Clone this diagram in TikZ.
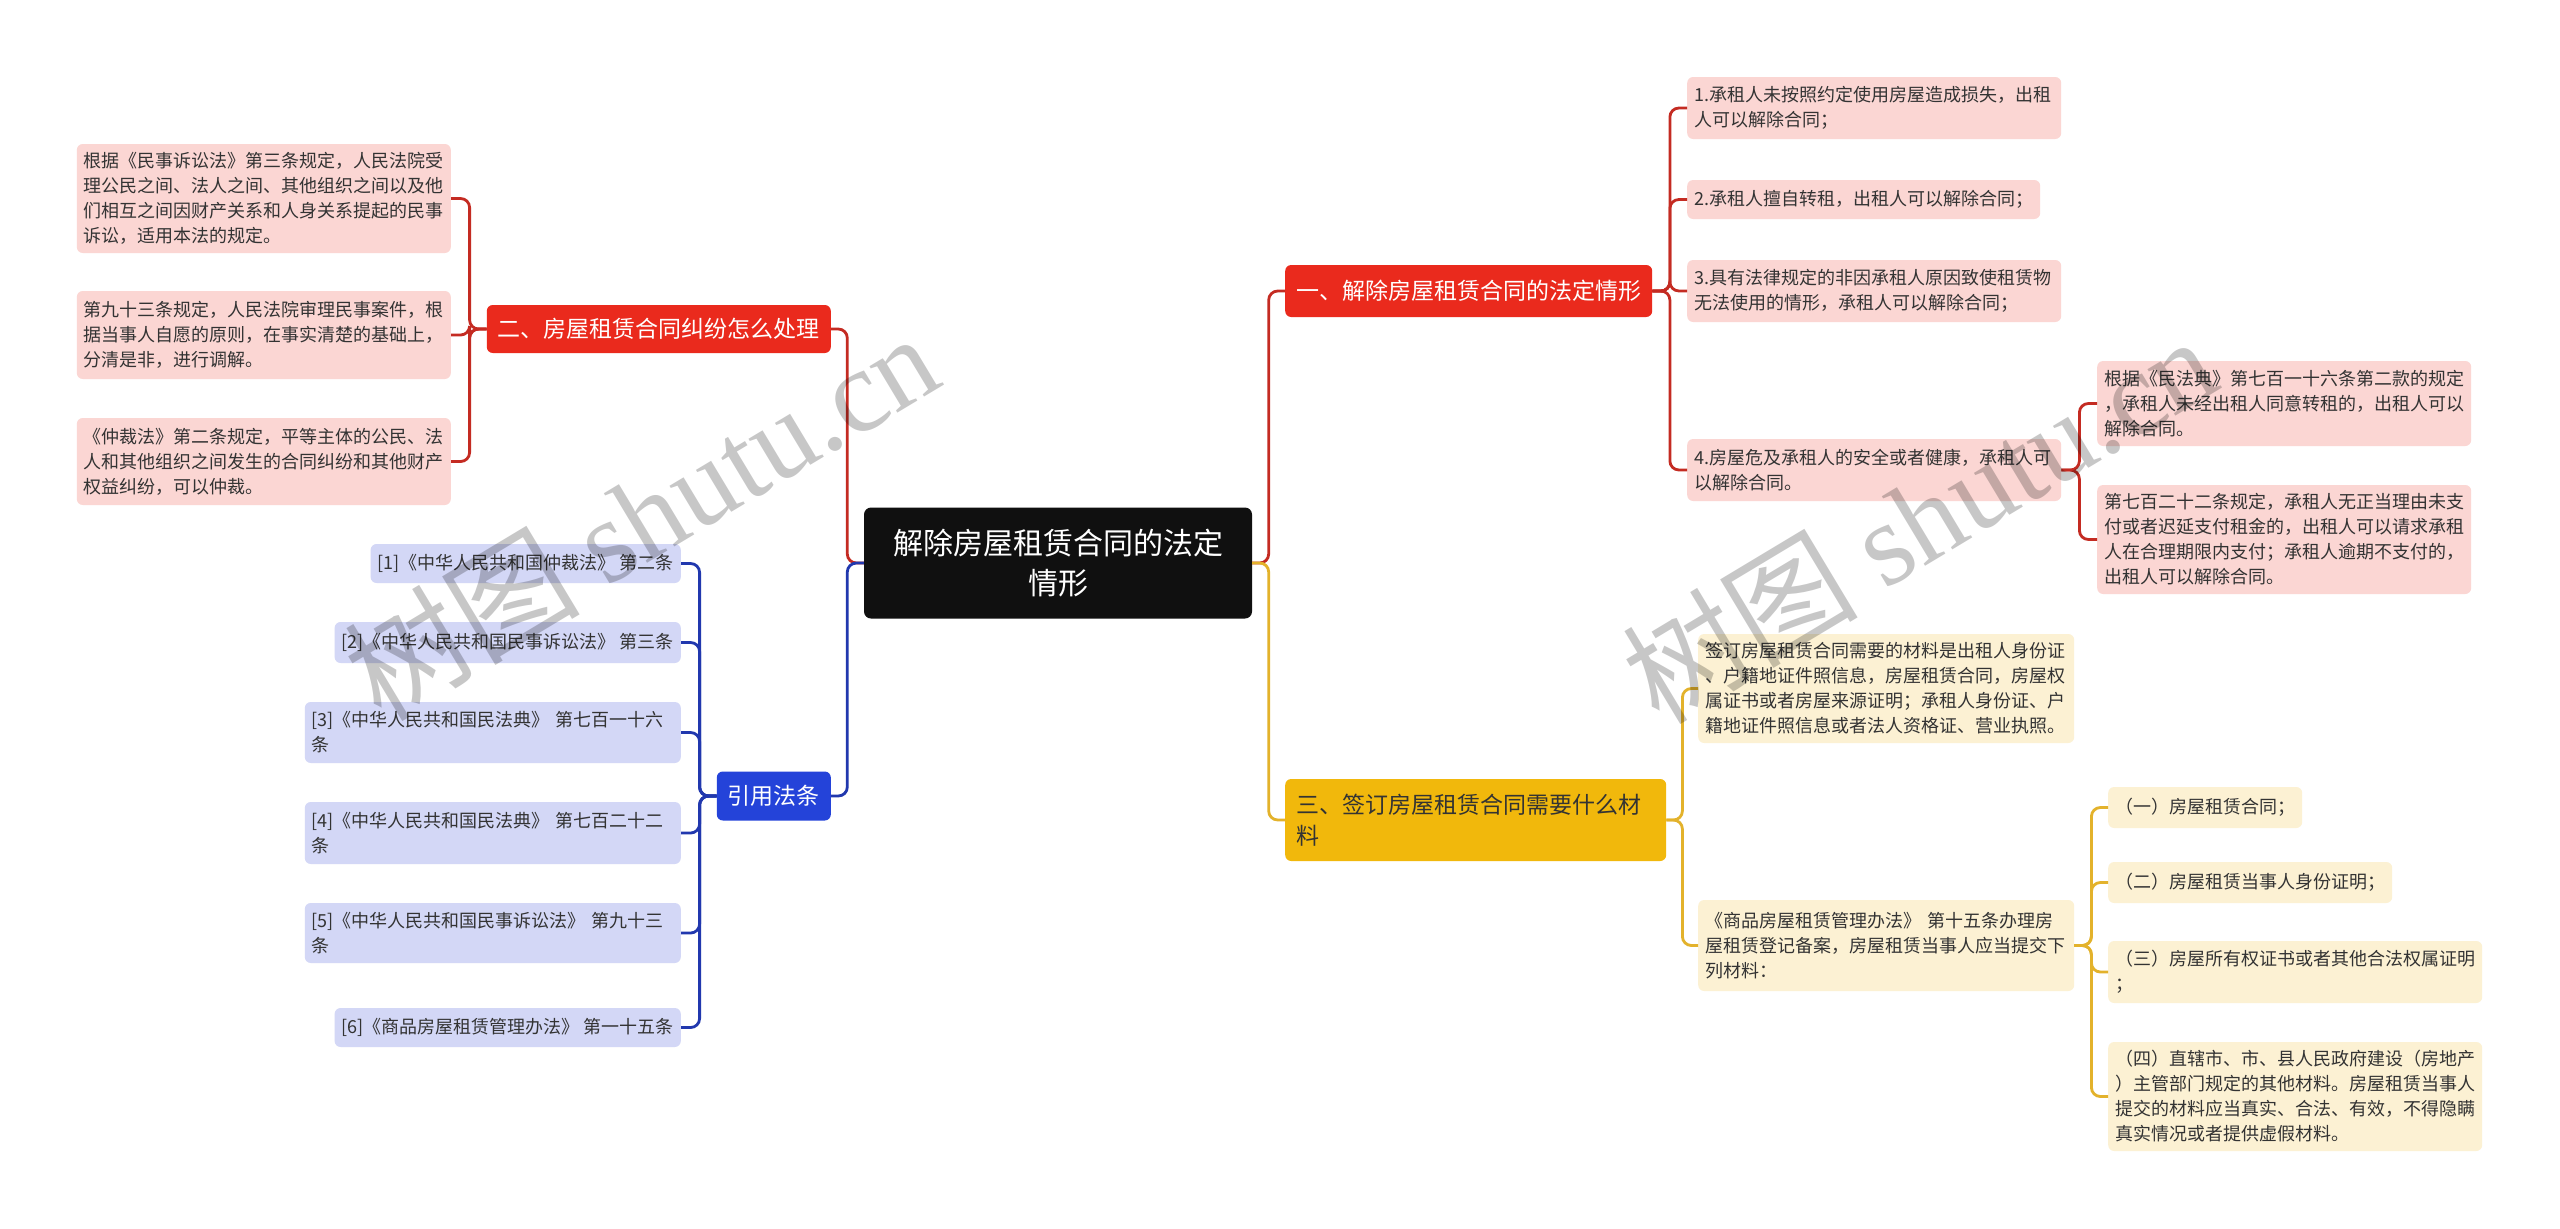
\documentclass[tikz,border=0pt]{standalone}
\usepackage{fontspec}
\setmainfont{Noto Sans CJK SC}
\newfontfamily\wmfont{Liberation Serif}
\usepackage{xcolor}
\usetikzlibrary{positioning, calc}

\definecolor{rootbg}{HTML}{101010}
\definecolor{redbg}{HTML}{EA2A1D}
\definecolor{redln}{HTML}{C42B22}
\definecolor{pinkbg}{HTML}{FBD6D3}
\definecolor{yellowbg}{HTML}{F1B80C}
\definecolor{yellowln}{HTML}{E3B22B}
\definecolor{creambg}{HTML}{FCF1D3}
\definecolor{bluebg}{HTML}{2443D9}
\definecolor{blueln}{HTML}{2138AE}
\definecolor{lavbg}{HTML}{D3D7F6}
\definecolor{txtdark}{HTML}{333333}

\begin{document}
\begin{tikzpicture}[x=1pt, y=-1pt,
  rootbox/.style={fill=rootbg, text=white, rounded corners=7pt, align=center,
    font=\fontsize{30}{40}\selectfont, minimum width=388pt, minimum height=111pt},
  head/.style={rounded corners=6pt, inner xsep=11pt, inner ysep=4pt, align=left,
    font=\fontsize{23}{31}\selectfont},
  redhead/.style={head, fill=redbg, text=white},
  yellowhead/.style={head, fill=yellowbg, text=txtdark},
  bluehead/.style={head, fill=bluebg, text=white},
  leaf/.style={rounded corners=6pt, inner xsep=7pt, inner ysep=4pt, align=left,
    text=txtdark, font=\fontsize{18}{25}\selectfont},
  pinkleaf/.style={leaf, fill=pinkbg},
  creamleaf/.style={leaf, fill=creambg},
  lavleaf/.style={leaf, fill=lavbg},
  wide/.style={text width=360pt},
  conn/.style={line width=2.8pt, rounded corners=9pt},
  redline/.style={conn, draw=redln},
  yellowline/.style={conn, draw=yellowln},
  blueline/.style={conn, draw=blueln},
  wm/.style={text=black, text opacity=0.22, font=\fontsize{118}{118}\selectfont}
]
\useasboundingbox (0,0) rectangle (2560,1229);
\fill[white] (0,0) rectangle (2560,1229);

% centre
\node[rootbox] (root) at (1058,563) {解除房屋租赁合同的法定\\情形};

% main branches
\node[redhead, anchor=west, minimum height=52pt] (sec1) at (1285,291) {一、解除房屋租赁合同的法定情形};
\node[yellowhead, anchor=west, text width=359pt, minimum height=82pt] (sec3) at (1285,820) {三、签订房屋租赁合同需要什么材\\料};
\node[redhead, anchor=east, minimum height=48pt] (sec2) at (831,329) {二、房屋租赁合同纠纷怎么处理};
\node[bluehead, anchor=east, minimum height=49pt] (law) at (831,796) {引用法条};

% branch 1
\node[pinkleaf, wide, anchor=west, minimum height=62pt] (r1) at (1687,108) {1.承租人未按照约定使用房屋造成损失，出租\\人可以解除合同；};
\node[pinkleaf, anchor=west, minimum height=39pt] (r2) at (1687,199.5) {2.承租人擅自转租，出租人可以解除合同；};
\node[pinkleaf, wide, anchor=west, minimum height=62pt] (r3) at (1687,291) {3.具有法律规定的非因承租人原因致使租赁物\\无法使用的情形，承租人可以解除合同；};
\node[pinkleaf, wide, anchor=west, minimum height=62pt] (r4) at (1687,470) {4.房屋危及承租人的安全或者健康，承租人可\\以解除合同。};
\node[pinkleaf, wide, anchor=west, minimum height=85pt] (r4a) at (2097,403.5) {根据《民法典》第七百一十六条第二款的规定\\，承租人未经出租人同意转租的，出租人可以\\解除合同。};
\node[pinkleaf, wide, anchor=west, minimum height=109pt] (r4b) at (2097,539.5) {第七百二十二条规定，承租人无正当理由未支\\付或者迟延支付租金的，出租人可以请求承租\\人在合理期限内支付；承租人逾期不支付的，\\出租人可以解除合同。};

% branch 3
\node[creamleaf, text width=362pt, anchor=west, minimum height=109pt] (y1) at (1698,688.5) {签订房屋租赁合同需要的材料是出租人身份证\\、户籍地证件照信息，房屋租赁合同，房屋权\\属证书或者房屋来源证明；承租人身份证、户\\籍地证件照信息或者法人资格证、营业执照。};
\node[creamleaf, text width=362pt, anchor=west, minimum height=91pt] (y2) at (1698,945.5) {《商品房屋租赁管理办法》 第十五条办理房\\屋租赁登记备案，房屋租赁当事人应当提交下\\列材料：};
\node[creamleaf, anchor=west, minimum height=41pt] (y2a) at (2108,807.5) {（一）房屋租赁合同；};
\node[creamleaf, anchor=west, minimum height=41pt] (y2b) at (2108,882.5) {（二）房屋租赁当事人身份证明；};
\node[creamleaf, wide, anchor=west, minimum height=62pt] (y2c) at (2108,972) {（三）房屋所有权证书或者其他合法权属证明\\；};
\node[creamleaf, wide, anchor=west, minimum height=109pt] (y2d) at (2108,1096.5) {（四）直辖市、市、县人民政府建设（房地产\\）主管部门规定的其他材料。房屋租赁当事人\\提交的材料应当真实、合法、有效，不得隐瞒\\真实情况或者提供虚假材料。};

% branch 2
\node[pinkleaf, wide, anchor=east, minimum height=109pt] (l1) at (451,198.5) {根据《民事诉讼法》第三条规定，人民法院受\\理公民之间、法人之间、其他组织之间以及他\\们相互之间因财产关系和人身关系提起的民事\\诉讼，适用本法的规定。};
\node[pinkleaf, wide, anchor=east, minimum height=88pt] (l2) at (451,335) {第九十三条规定，人民法院审理民事案件，根\\据当事人自愿的原则，在事实清楚的基础上，\\分清是非，进行调解。};
\node[pinkleaf, wide, anchor=east, minimum height=87pt] (l3) at (451,461.5) {《仲裁法》第二条规定，平等主体的公民、法\\人和其他组织之间发生的合同纠纷和其他财产\\权益纠纷，可以仲裁。};

% cited laws
\node[lavleaf, anchor=east, minimum height=39pt] (k1) at (681,563.5) {[1]《中华人民共和国仲裁法》 第二条};
\node[lavleaf, anchor=east, minimum height=41pt] (k2) at (681,642.5) {[2]《中华人民共和国民事诉讼法》 第三条};
\node[lavleaf, text width=362pt, anchor=east, minimum height=61pt] (k3) at (681,732.5) {[3]《中华人民共和国民法典》 第七百一十六\\条};
\node[lavleaf, text width=362pt, anchor=east, minimum height=62pt] (k4) at (681,833) {[4]《中华人民共和国民法典》 第七百二十二\\条};
\node[lavleaf, text width=362pt, anchor=east, minimum height=60pt] (k5) at (681,933) {[5]《中华人民共和国民事诉讼法》 第九十三\\条};
\node[lavleaf, anchor=east, minimum height=39pt] (k6) at (681,1027.5) {[6]《商品房屋租赁管理办法》 第一十五条};

% connectors
\draw[redline] (root.east) -- ++(16.5,0) |- (sec1.west);
\draw[yellowline] (root.east) -- ++(16.5,0) |- (sec3.west);
\draw[redline] (root.west) -- ++(-16.5,0) |- (sec2.east);
\draw[blueline] (root.west) -- ++(-16.5,0) |- (law.east);

\foreach \c in {r1,r2,r3,r4}
  \draw[redline] (sec1.east) -- ++(17.5,0) |- (\c.west);
\foreach \c in {r4a,r4b}
  \draw[redline] (r4.east) -- ++(18,0) |- (\c.west);
\foreach \c in {y1,y2}
  \draw[yellowline] (sec3.east) -- ++(16,0) |- (\c.west);
\foreach \c in {y2a,y2b,y2c,y2d}
  \draw[yellowline] (y2.east) -- ++(17,0) |- (\c.west);
\foreach \c in {l1,l2,l3}
  \draw[redline] (sec2.west) -- ++(-17,0) |- (\c.east);
\foreach \c in {k1,k2,k3,k4,k5,k6}
  \draw[blueline] (law.west) -- ++(-17,0) |- (\c.east);

% watermarks
\node[wm, rotate=31] (wm1) at (641,515) {树图 {\wmfont shutu.cn}};
\node[wm, rotate=31] (wm2) at (1919,518) {树图 {\wmfont shutu.cn}};
\end{tikzpicture}
\end{document}
